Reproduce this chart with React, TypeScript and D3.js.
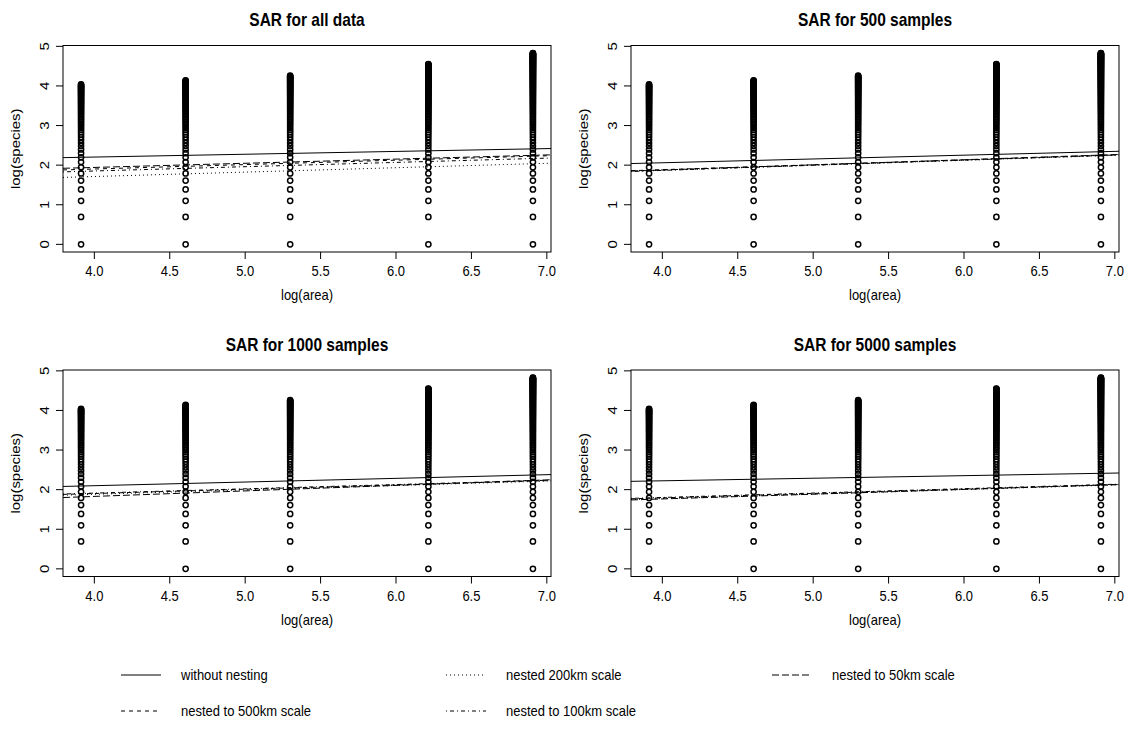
import React, { useRef, useEffect } from 'react';
import * as d3 from 'd3';

// sampled areas (km2) and the highest species count seen at each area
const areas = [50, 100, 200, 500, 1000];
const maxRichness = [57, 63, 71, 95, 125];

const panelTitles = ['SAR for all data', 'SAR for 500 samples', 'SAR for 1000 samples', 'SAR for 5000 samples'];

// fitted lines, [intercept, slope] per panel
const withoutNesting = [[1.920, 0.0711], [1.677, 0.0958], [1.729, 0.0927], [1.964, 0.0649]];
const nested500 = [[1.458, 0.1112], [1.391, 0.1236], [1.470, 0.1082], [1.348, 0.1112]];
const nested200 = [[1.268, 0.1112], [1.381, 0.1236], [1.438, 0.1112], [1.317, 0.1143]];
const nested100 = [[1.420, 0.1082], [1.348, 0.1298], [1.480, 0.1082], [1.358, 0.1112]];
const nested50 = [[1.522, 0.1051], [1.358, 0.1298], [1.273, 0.1391], [1.283, 0.1205]];

const legendLabels = ['without nesting', 'nested to 500km scale', 'nested 200km scale', 'nested to 100km scale', 'nested to 50km scale'];
const xTicks = [4.0, 4.5, 5.0, 5.5, 6.0, 6.5, 7.0];
const yTicks = [0, 1, 2, 3, 4, 5];

const fits = [withoutNesting, nested500, nested200, nested100, nested50];
const dashes = [null, '4,4', '1,3', '1,3,4,3', '7,3'];
const FONT = '"Liberation Sans", Arial, Helvetica, sans-serif';
const SY = 1.15; // the original text is a little taller than it is wide

export default function App() {
  const ref = useRef<SVGSVGElement>(null);

  useEffect(() => {
    const svg = d3.select(ref.current);
    svg.selectAll('*').remove();

    const W = 488, H = 206.5;
    const lefts = [63, 631], tops = [45.5, 370];

    const lx = areas.map(a => Math.log(a));
    const points: [number, number][] = [];
    lx.forEach((x, i) => {
      d3.range(1, maxRichness[i] + 1).forEach(s => points.push([x, Math.log(s)]));
    });

    // R style 4% padding
    const xe = d3.extent(lx) as [number, number];
    const ye = d3.extent(points, d => d[1]) as [number, number];
    const px = (xe[1] - xe[0]) * 0.04, py = (ye[1] - ye[0]) * 0.04;

    const label = (sel: any, size: number, bold = false) =>
      sel.style('font-family', FONT).style('font-size', `${size}px`)
        .style('font-weight', bold ? 'bold' : 'normal');

    panelTitles.forEach((title, p) => {
      const left = lefts[p % 2], top = tops[Math.floor(p / 2)];
      const x = d3.scaleLinear().domain([xe[0] - px, xe[1] + px]).range([0, W]);
      const y = d3.scaleLinear().domain([ye[0] - py, ye[1] + py]).range([H, 0]);

      const g = svg.append('g').attr('transform', `translate(${left},${top})`);
      const clipId = `clip${p}`;
      g.append('clipPath').attr('id', clipId).append('rect').attr('width', W).attr('height', H);

      g.append('g').selectAll('circle')
        .data(points)
        .enter()
        .append('circle')
        .attr('cx', d => x(d[0]))
        .attr('cy', d => y(d[1]))
        .attr('r', 2.6)
        .attr('fill', 'none')
        .attr('stroke', '#000')
        .attr('stroke-width', 1.5);

      const lines = g.append('g').attr('clip-path', `url(#${clipId})`);
      fits.forEach((model, m) => {
        const [b, s] = model[p];
        const [d0, d1] = x.domain();
        const ln = lines.append('line')
          .attr('x1', x(d0)).attr('y1', y(b + s * d0))
          .attr('x2', x(d1)).attr('y2', y(b + s * d1))
          .attr('stroke', '#000')
          .attr('stroke-width', 1);
        if (dashes[m]) ln.attr('stroke-dasharray', dashes[m]);
      });

      g.append('rect').attr('width', W).attr('height', H)
        .attr('fill', 'none').attr('stroke', '#000').attr('stroke-width', 1);

      g.append('g').selectAll('line')
        .data(xTicks).enter().append('line')
        .attr('x1', d => x(d)).attr('x2', d => x(d))
        .attr('y1', H).attr('y2', H + 7)
        .attr('stroke', '#000');
      label(g.append('g').selectAll('text')
        .data(xTicks).enter().append('text')
        .attr('transform', d => `translate(${x(d)},${H + 24}) scale(1,${SY})`)
        .attr('text-anchor', 'middle'), 13)
        .text(d => d.toFixed(1));

      g.append('g').selectAll('line')
        .data(yTicks).enter().append('line')
        .attr('x1', -7).attr('x2', 0)
        .attr('y1', d => y(d)).attr('y2', d => y(d))
        .attr('stroke', '#000');
      label(g.append('g').selectAll('text')
        .data(yTicks).enter().append('text')
        .attr('transform', d => `translate(-14,${y(d)}) scale(1,${SY}) rotate(-90)`)
        .attr('text-anchor', 'middle'), 13)
        .text(d => d);

      label(g.append('text')
        .attr('transform', `translate(${W / 2},-19.5) scale(1,${SY})`)
        .attr('text-anchor', 'middle'), 15.5, true)
        .text(title);
      label(g.append('text')
        .attr('transform', `translate(${W / 2},${H + 48}) scale(1,${SY})`)
        .attr('text-anchor', 'middle'), 13)
        .text('log(area)');
      label(g.append('text')
        .attr('transform', `translate(-43,${H / 2}) scale(1,${SY}) rotate(-90)`)
        .attr('text-anchor', 'middle'), 13)
        .text('log(species)');
    });

    // legend, filled by columns like R's ncol = 3
    const colX = [121, 446, 772], rowY = [675, 711];
    const lg = svg.append('g');
    legendLabels.forEach((text, i) => {
      const cx = colX[Math.floor(i / 2)], cy = rowY[i % 2];
      const ln = lg.append('line')
        .attr('x1', cx).attr('x2', cx + 40)
        .attr('y1', cy).attr('y2', cy)
        .attr('stroke', '#000').attr('stroke-width', 1);
      if (dashes[i]) ln.attr('stroke-dasharray', dashes[i]);
      label(lg.append('text')
        .attr('transform', `translate(${cx + 60},${cy + 5}) scale(1,${SY})`), 13)
        .text(text);
    });
  }, []);

  return (
    <svg ref={ref} width={1131} height={745}
      style={{ position: 'absolute', left: 0, top: 0, background: '#fff' }} />
  );
}
